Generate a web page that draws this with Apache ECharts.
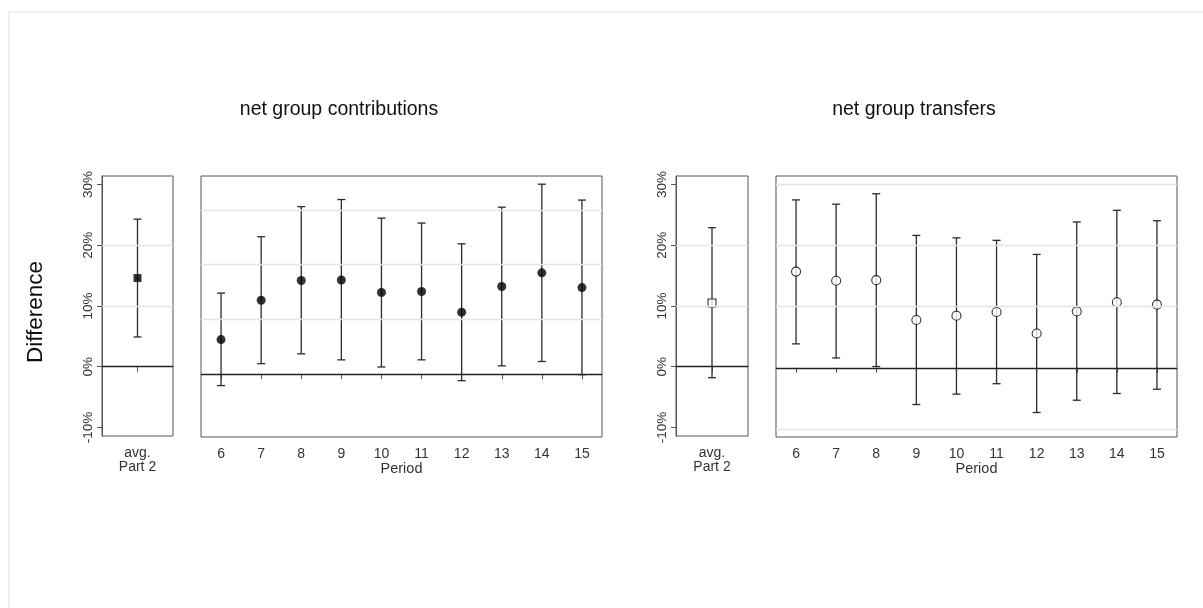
<!DOCTYPE html>
<html>
<head>
<meta charset="utf-8">
<script src="https://cdn.jsdelivr.net/npm/echarts@6/dist/echarts.min.js"></script>
<style>
html,body{margin:0;padding:0;background:#fff;}
#chart{width:1203px;height:608px;}
</style>
</head>
<body>
<div id="chart"></div>
<script>
// ---- data ----
const periods = ['6','7','8','9','10','11','12','13','14','15'];
const avgLabel = ['avg.\nPart 2'];
const yTickValues = [-10, 0, 10, 20, 30];
const panelTitles = ['net group contributions', 'net group transfers'];

// net group contributions
const contribAvgMean = [14.6];
const contribAvgLow  = [4.9];
const contribAvgHigh = [24.3];
const contribMean = [6.3, 13.5, 17.1, 17.2, 14.9, 15.1, 11.3, 16.0, 18.5, 15.8];
const contribLow  = [-2.1, 1.9, 3.7, 2.6, 1.3, 2.6, -1.2, 1.5, 2.3, -0.1];
const contribHigh = [14.8, 25.1, 30.6, 31.9, 28.5, 27.6, 23.8, 30.5, 34.7, 31.8];

// net group transfers
const transferAvgMean = [10.5];
const transferAvgLow  = [-1.8];
const transferAvgHigh = [22.9];
const transferMean = [15.7, 14.2, 14.3, 7.8, 8.5, 9.1, 5.6, 9.2, 10.7, 10.3];
const transferLow  = [3.9, 1.6, 0.2, -6.0, -4.3, -2.6, -7.3, -5.3, -4.2, -3.5];
const transferHigh = [27.4, 26.7, 28.4, 21.6, 21.2, 20.8, 18.5, 23.8, 25.7, 24.0];

// ---- chart ----
const FONT = 'Liberation Sans, Arial, sans-serif';
const frameColor = '#555';
const gridLineColor = '#e4e4e4';
const barColor = '#2b2b2b';

function toXY(vals) { return vals.map((v, i) => [i, v]); }
function toBars(lo, hi) { return lo.map((v, i) => [i, v, hi[i]]); }

function errorSeries(idx, lo, hi) {
  return {
    type: 'custom', xAxisIndex: idx, yAxisIndex: idx, z: 3, silent: true,
    data: toBars(lo, hi),
    renderItem: function (params, api) {
      const i = api.value(0);
      const p1 = api.coord([i, api.value(1)]);
      const p2 = api.coord([i, api.value(2)]);
      const w = 4;
      const st = { stroke: barColor, lineWidth: 1.3 };
      return {
        type: 'group',
        children: [
          { type: 'line', shape: { x1: p1[0], y1: p1[1], x2: p2[0], y2: p2[1] }, style: st },
          { type: 'line', shape: { x1: p1[0] - w, y1: p1[1], x2: p1[0] + w, y2: p1[1] }, style: st },
          { type: 'line', shape: { x1: p2[0] - w, y1: p2[1], x2: p2[0] + w, y2: p2[1] }, style: st }
        ]
      };
    }
  };
}

function gridSeries(idx, lines) {
  const data = lines.map(v => ({ yAxis: v, lineStyle: { color: gridLineColor, width: 1.3, type: 'solid' } }));
  data.push({ yAxis: 0, lineStyle: { color: '#222', width: 1.3, type: 'solid' } });
  return {
    type: 'line', xAxisIndex: idx, yAxisIndex: idx, z: 1, data: [], silent: true,
    markLine: { silent: true, symbol: 'none', label: { show: false }, animation: false, data: data }
  };
}

function smallY(idx, min, max) {
  return {
    type: 'value', gridIndex: idx, min: min, max: max,
    splitLine: { show: false },
    axisLine: { show: true, lineStyle: { color: frameColor } },
    axisTick: { show: true, customValues: yTickValues, length: 5, lineStyle: { color: frameColor } },
    axisLabel: {
      show: true, customValues: yTickValues, rotate: 90, margin: 7,
      formatter: v => v + '%', color: '#333', fontSize: 13.5, fontFamily: FONT
    }
  };
}
function bigY(idx, min, max) {
  return {
    type: 'value', gridIndex: idx, min: min, max: max,
    splitLine: { show: false }, axisLine: { show: false },
    axisTick: { show: false }, axisLabel: { show: false }
  };
}
function catX(idx, data, name) {
  return {
    type: 'category', gridIndex: idx, data: data, boundaryGap: true,
    name: name || '', nameLocation: 'middle', nameGap: 24,
    nameTextStyle: { color: '#333', fontSize: 14.5, fontFamily: FONT },
    axisLine: { show: true, lineStyle: { color: frameColor } },
    axisTick: { show: true, alignWithLabel: true, length: 5, lineStyle: { color: frameColor } },
    axisLabel: { color: '#333', fontSize: 14, lineHeight: 14, margin: 10, fontFamily: FONT, interval: 0 }
  };
}

const gridBase = { show: true, borderColor: frameColor, borderWidth: 1, backgroundColor: '#fff', containLabel: false };
const titleStyle = { fontSize: 19.5, fontFamily: FONT, fill: '#111', textAlign: 'center', textVerticalAlign: 'middle' };

const option = {
  animation: false,
  backgroundColor: '#fff',
  graphic: [
    { type: 'line', shape: { x1: 8, y1: 12, x2: 1203, y2: 12 }, style: { stroke: '#edf1f1', lineWidth: 2 }, silent: true },
    { type: 'line', shape: { x1: 9, y1: 12, x2: 9, y2: 608 }, style: { stroke: '#edf1f1', lineWidth: 2 }, silent: true },
    { type: 'text', x: 339, y: 110, silent: true, style: Object.assign({ text: panelTitles[0] }, titleStyle) },
    { type: 'text', x: 914, y: 110, silent: true, style: Object.assign({ text: panelTitles[1] }, titleStyle) },
    { type: 'text', x: 36, y: 312, rotation: Math.PI / 2, silent: true,
      style: { text: 'Difference', fontSize: 22.5, fontFamily: FONT, fill: '#111', textAlign: 'center', textVerticalAlign: 'middle' } }
  ],
  grid: [
    Object.assign({ left: 102, top: 176, width: 71, height: 260 }, gridBase),
    Object.assign({ left: 201, top: 176, width: 401, height: 261 }, gridBase),
    Object.assign({ left: 676, top: 176, width: 72, height: 260 }, gridBase),
    Object.assign({ left: 776, top: 176, width: 401, height: 261 }, gridBase)
  ],
  xAxis: [
    catX(0, avgLabel),
    catX(1, periods, 'Period'),
    catX(2, avgLabel),
    catX(3, periods, 'Period')
  ],
  yAxis: [
    smallY(0, -11.4, 31.4),
    bigY(1, -11.5, 36.2),
    smallY(2, -11.4, 31.4),
    bigY(3, -11.3, 31.3)
  ],
  series: [
    gridSeries(0, [10, 20]),
    gridSeries(1, [10, 20, 30]),
    gridSeries(2, [10, 20]),
    gridSeries(3, [-10, 10, 20, 30]),

    errorSeries(0, contribAvgLow, contribAvgHigh),
    errorSeries(1, contribLow, contribHigh),
    errorSeries(2, transferAvgLow, transferAvgHigh),
    errorSeries(3, transferLow, transferHigh),

    { type: 'scatter', xAxisIndex: 0, yAxisIndex: 0, z: 4, symbol: 'rect', symbolSize: 8,
      itemStyle: { color: '#000' }, data: toXY(contribAvgMean) },
    { type: 'scatter', xAxisIndex: 1, yAxisIndex: 1, z: 4, symbol: 'circle', symbolSize: 9,
      itemStyle: { color: '#000' }, data: toXY(contribMean) },
    { type: 'scatter', xAxisIndex: 2, yAxisIndex: 2, z: 4, symbol: 'rect', symbolSize: 8,
      itemStyle: { color: '#fff', borderColor: '#000', borderWidth: 1.1 }, data: toXY(transferAvgMean) },
    { type: 'scatter', xAxisIndex: 3, yAxisIndex: 3, z: 4, symbol: 'circle', symbolSize: 9,
      itemStyle: { color: '#fff', borderColor: '#000', borderWidth: 1.1 }, data: toXY(transferMean) }
  ]
};

const chart = echarts.init(document.getElementById('chart'), null, { renderer: 'canvas' });
chart.setOption(option);
</script>
</body>
</html>
